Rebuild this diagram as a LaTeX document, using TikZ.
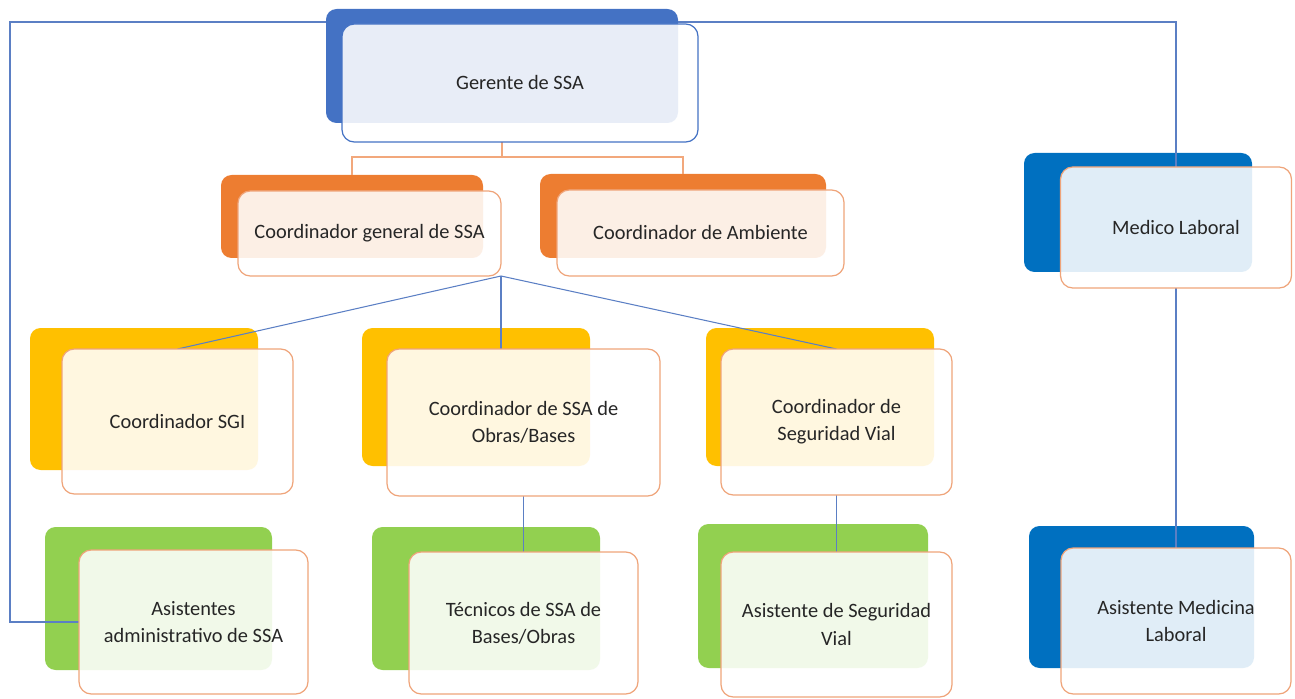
\documentclass[tikz,border=0pt]{standalone}
\usepackage{fontspec}
\setmainfont{Carlito}
\usetikzlibrary{positioning}
\newcommand{\pxu}{0.02cm}
\definecolor{gerblue}{HTML}{4472C4}
\definecolor{medblue}{HTML}{0070C0}
\definecolor{coordorange}{HTML}{ED7D31}
\definecolor{coordyellow}{HTML}{FFC000}
\definecolor{asisgreen}{HTML}{92D050}
\definecolor{frameorange}{HTML}{EFA47A}
\definecolor{linkorange}{HTML}{F2A87C}
\definecolor{linkblue}{HTML}{5B7FC4}
\definecolor{txtgray}{HTML}{262626}
\pgfdeclarelayer{backlayer}
\pgfdeclarelayer{linklayer}
\pgfsetlayers{backlayer,linklayer,main}

\tikzset{
	backbox/.style={rounded corners=6pt, inner sep=0pt, outer sep=0pt, fill=#1},
	frontbox/.style={rounded corners=7pt, inner sep=0pt, outer sep=0pt, draw=frameorange, line width=0.7pt,
		fill=white, fill opacity=0.88, text opacity=1, text=txtgray, align=center,
		font=\fontsize{11.6}{15.5}\selectfont},
	bluelink/.style={draw=linkblue, line width=0.6pt},
	orangelink/.style={draw=linkorange, line width=0.8pt},
}

\begin{document}
\begin{tikzpicture}[x=0.02cm,y=-0.02cm]
	\useasboundingbox (0,0) rectangle (1295,699);

	% front boxes
	\node[frontbox, draw=gerblue, minimum width=356*\pxu, minimum height=118*\pxu] (gerente) at (520,83) {Gerente de SSA};
	\node[frontbox, minimum width=263*\pxu, minimum height=85*\pxu] (coordgen) at (369.5,233.5) {Coordinador general de SSA};
	\node[frontbox, minimum width=287*\pxu, minimum height=86*\pxu] (ambiente) at (700.5,233) {Coordinador de Ambiente};
	\node[frontbox, minimum width=231*\pxu, minimum height=145*\pxu] (sgi) at (177.5,421.5) {Coordinador SGI};
	\node[frontbox, minimum width=273*\pxu, minimum height=147*\pxu] (obras) at (523.5,422.5) {Coordinador de SSA de\\Obras/Bases};
	\node[frontbox, minimum width=231*\pxu, minimum height=146*\pxu] (vial) at (836.5,422) {Coordinador de\\Seguridad Vial};
	\node[frontbox, minimum width=229*\pxu, minimum height=144*\pxu] (admin) at (193.5,622) {Asistentes\\administrativo de SSA};
	\node[frontbox, minimum width=229*\pxu, minimum height=142*\pxu] (tecnicos) at (523.5,623) {Técnicos de SSA de\\Bases/Obras};
	\node[frontbox, minimum width=231*\pxu, minimum height=145*\pxu] (asisvial) at (836.5,624.5) {Asistente de Seguridad\\Vial};
	\node[frontbox, minimum width=231*\pxu, minimum height=121*\pxu] (medico) at (1176,227.5) {Medico Laboral};
	\node[frontbox, minimum width=230*\pxu, minimum height=146*\pxu] (asismed) at (1176,621) {Asistente Medicina\\Laboral};

	\coordinate (lcorner) at (10,22);
	\coordinate (rcorner) at (medico.north |- lcorner);

	% back boxes
	\begin{pgfonlayer}{backlayer}
	\node[backbox=gerblue, minimum width=352*\pxu, minimum height=114*\pxu] (gerenteB) at (502,66) {};
	\node[backbox=coordorange, minimum width=262*\pxu, minimum height=83*\pxu] (coordgenB) at (352,216.5) {};
	\node[backbox=coordorange, minimum width=286*\pxu, minimum height=84*\pxu] (ambienteB) at (683,216) {};
	\node[backbox=coordyellow, minimum width=228*\pxu, minimum height=142*\pxu] (sgiB) at (144,399) {};
	\node[backbox=coordyellow, minimum width=228*\pxu, minimum height=138*\pxu] (obrasB) at (476,397) {};
	\node[backbox=coordyellow, minimum width=228*\pxu, minimum height=138*\pxu] (vialB) at (820,397) {};
	\node[backbox=asisgreen, minimum width=227*\pxu, minimum height=143*\pxu] (adminB) at (158.5,598.5) {};
	\node[backbox=asisgreen, minimum width=228*\pxu, minimum height=143*\pxu] (tecnicosB) at (486,598.5) {};
	\node[backbox=asisgreen, minimum width=230*\pxu, minimum height=144*\pxu] (asisvialB) at (813,596) {};
	\node[backbox=medblue, minimum width=228*\pxu, minimum height=119*\pxu] (medicoB) at (1138,212.5) {};
	\node[backbox=medblue, minimum width=225*\pxu, minimum height=142*\pxu] (asismedB) at (1141.5,597) {};
	\end{pgfonlayer}

	% links
	\begin{pgfonlayer}{linklayer}
	\draw[orangelink] (gerenteB |- gerente.south) -- ++(0,15) -| (coordgenB.north);
	\draw[orangelink] (gerenteB |- gerente.south) -- ++(0,15) -| (ambienteB.north);
	\draw[bluelink] (coordgen.south east) -- (sgi.north);
	\draw[bluelink] (coordgen.south east) -- (coordgen.south east |- obras.north);
	\draw[bluelink] (coordgen.south east) -- (vial.north);
	\draw[bluelink] (obras.south) -- (tecnicos.north);
	\draw[bluelink] (vial.south) -- (asisvial.north);
	\draw[bluelink] (medico.south) -- (asismed.north);
	\draw[bluelink] (admin.west) -| (lcorner) -- (gerenteB.west |- lcorner);
	\draw[bluelink] (gerenteB.east |- rcorner) -- (rcorner) -- (medico.north);
	\end{pgfonlayer}
\end{tikzpicture}
\end{document}
